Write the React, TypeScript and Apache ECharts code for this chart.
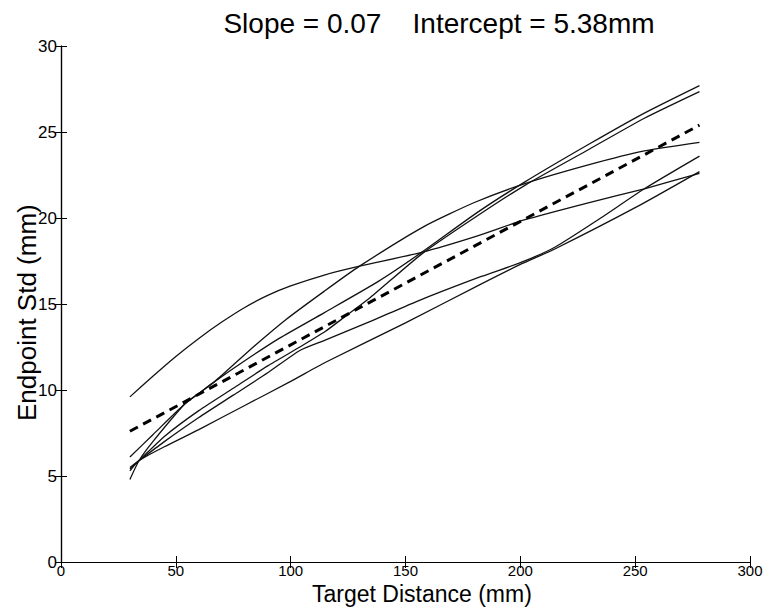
import React, { useEffect, useRef } from "react";
import * as echarts from "echarts";

const titleText = "Slope = 0.07    Intercept = 5.38mm";
const xName = "Target Distance (mm)";
const yName = "Endpoint Std (mm)";

const curveA = [[30,9.6],[40,10.8],[50,11.95],[60,13.0],[70,13.95],[80,14.8],[90,15.5],[100,16.05],[115,16.7],[130,17.2],[157,18.0],[180,18.9],[202,19.9],[230,20.9],[254,21.7],[278,22.6]];
const curveB = [[30,6.1],[40,7.4],[54,9.2],[67,10.5],[82,12.3],[98,14.1],[114.7,15.75],[130,17.2],[158,19.5],[180,20.9],[202,22.0],[230,23.1],[254,23.9],[278,24.4]];
const curveC = [[30,4.8],[34,5.9],[40,7.0],[54,9.2],[60,9.8],[67,10.5],[80,11.7],[95,13.0],[114.7,14.5],[138,16.3],[157,18.0],[181,20.3],[202,22.1],[230,24.3],[254,26.1],[278,27.7]];
const curveD = [[30,5.4],[34,5.9],[45,7.3],[60,8.8],[75,10.1],[90,11.4],[104,12.5],[115,13.4],[124,14.3],[134,15.3],[157,17.9],[181,20.1],[202,21.9],[230,24.0],[254,25.8],[278,27.35]];
const curveE = [[30,5.5],[34,5.9],[45,7.0],[60,8.4],[75,9.7],[90,11.0],[104,12.3],[115,12.9],[135,14.0],[154,15.1],[183,16.6],[200,17.4],[215,18.3],[235,20.0],[254,21.7],[278,23.6]];
const curveF = [[30,5.3],[34,5.9],[45,6.7],[60,7.7],[80,9.1],[100,10.5],[115,11.6],[150,13.9],[182,16.1],[200,17.3],[215,18.2],[250,20.6],[278,22.7]];
const fitLine = [[30,7.6],[278,25.4]];

const solidCurves = [curveA, curveB, curveC, curveD, curveE, curveF];

const FONT = "Liberation Sans, Arial, Helvetica, sans-serif";

export default function App() {
  const ref = useRef<HTMLDivElement>(null);
  useEffect(() => {
    if (!ref.current) return;
    const chart = echarts.init(ref.current, undefined, { renderer: "svg" });
    const axisCommon = {
      axisLine: { show: true, lineStyle: { color: "#000", width: 1.2 } },
      axisTick: { show: true, inside: true, length: 6, lineStyle: { color: "#000" } },
      splitLine: { show: false },
    };
    const series: any[] = solidCurves.map((d) => ({
      type: "line",
      data: d,
      showSymbol: false,
      smooth: 0.2,
      lineStyle: { color: "#111", width: 1.3 },
      xAxisIndex: 0,
      yAxisIndex: 0,
    }));
    series.push({
      type: "line",
      data: fitLine,
      showSymbol: false,
      lineStyle: { color: "#000", width: 3, type: [9, 6] },
      xAxisIndex: 0,
      yAxisIndex: 0,
    });
    chart.setOption({
      animation: false,
      backgroundColor: "#fff",
      title: {
        text: titleText,
        left: 434,
        top: 4,
        textAlign: "center",
        textStyle: { fontFamily: FONT, fontSize: 28, fontWeight: "normal", color: "#000" },
      },
      graphic: [
        {
          type: "text",
          left: 312,
          top: 582,
          style: { text: xName, font: `23px ${FONT}`, fill: "#000" },
        },
        {
          type: "text",
          x: 14,
          y: 421,
          rotation: Math.PI / 2,
          style: { text: yName, font: `26px ${FONT}`, fill: "#000", textVerticalAlign: "top" },
        },
      ],
      grid: { left: 61, right: 22, top: 46, bottom: 45, containLabel: false },
      xAxis: [
        {
          type: "value",
          min: 0,
          max: 300,
          interval: 50,
          position: "bottom",
          axisLabel: { fontFamily: FONT, fontSize: 15, color: "#000", margin: 1 },
          ...axisCommon,
        },
        {
          type: "value",
          min: 0,
          max: 300,
          interval: 50,
          position: "top",
          axisLabel: { show: false },
          ...axisCommon,
        },
      ],
      yAxis: [
        {
          type: "value",
          min: 0,
          max: 30,
          interval: 5,
          position: "left",
          axisLabel: { fontFamily: FONT, fontSize: 17, color: "#000", margin: 4 },
          ...axisCommon,
        },
        {
          type: "value",
          min: 0,
          max: 30,
          interval: 5,
          position: "right",
          axisLabel: { show: false },
          ...axisCommon,
        },
      ],
      series,
    });
    return () => chart.dispose();
  }, []);
  return (
    <div
      ref={ref}
      style={{ position: "fixed", left: 0, top: 0, width: 772, height: 607, background: "#fff" }}
    />
  );
}
